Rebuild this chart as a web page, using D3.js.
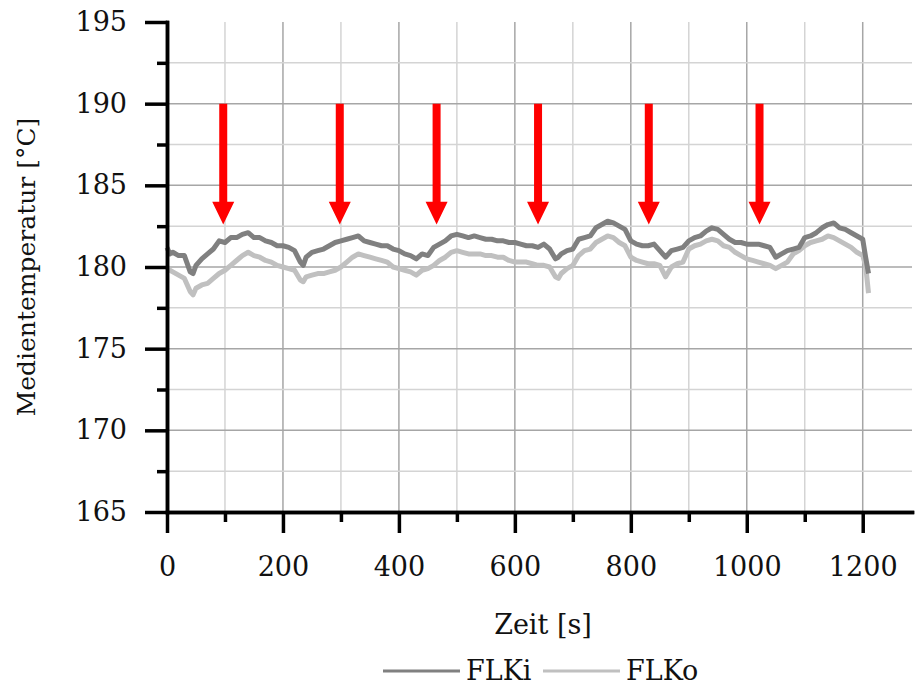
<!DOCTYPE html>
<html>
<head>
<meta charset="utf-8">
<script src="https://cdn.jsdelivr.net/npm/d3@7"></script>
<style>
  body { margin: 0; background: #fff; }
  text { font-family: "DejaVu Serif", "Liberation Serif", "Noto Serif", serif; fill: #111; }
</style>
</head>
<body>
<div id="viz-container"></div>
<script>
// time in seconds
let zeit = [0,5,10,20,30,40,45,50,60,70,80,90,100,110,120,130,140,150,160,170,180,190,200,210,220,230,235,240,
  250,260,270,280,290,300,310,320,330,340,350,360,370,380,390,400,410,420,430,440,450,460,470,480,490,500,
  510,520,530,540,550,560,570,580,590,600,610,620,630,640,650,660,670,675,680,690,700,710,720,730,740,750,
  760,770,780,790,800,810,820,830,840,850,860,870,880,890,900,910,920,930,940,950,960,970,980,990,1000,
  1010,1020,1030,1040,1050,1060,1070,1080,1090,1100,1110,1120,1130,1140,1150,1160,1170,1180,1190,1200,1205,1210];

// FLKi (dark)
let flki = [181.2,180.8,180.9,180.7,180.7,179.7,179.6,180.1,180.5,180.8,181.1,181.6,181.5,181.8,181.8,182.0,182.1,181.8,181.8,181.6,181.5,181.3,181.3,181.2,181.0,180.3,180.1,180.6,
  180.9,181.0,181.1,181.3,181.5,181.6,181.7,181.8,181.9,181.6,181.5,181.4,181.3,181.3,181.1,181.0,180.8,180.7,180.5,180.8,180.7,181.2,181.4,181.6,181.9,182.0,
  181.9,181.8,181.9,181.8,181.7,181.7,181.6,181.6,181.5,181.5,181.4,181.3,181.3,181.2,181.4,181.1,180.5,180.6,180.8,181.0,181.1,181.7,181.8,181.9,182.4,182.6,
  182.8,182.7,182.5,182.3,181.6,181.4,181.3,181.3,181.4,181.0,180.6,181.0,181.1,181.2,181.6,181.8,181.9,182.2,182.4,182.3,182.0,181.7,181.5,181.5,181.4,
  181.4,181.4,181.3,181.2,180.6,180.8,181.0,181.1,181.2,181.8,181.9,182.1,182.4,182.6,182.7,182.4,182.3,182.1,181.9,181.7,180.6,179.6];

// FLKo (light)
let flko = [180.0,179.8,179.7,179.5,179.3,178.5,178.3,178.7,178.9,179.0,179.3,179.6,179.8,180.1,180.4,180.7,180.9,180.7,180.6,180.4,180.3,180.1,180.0,179.9,179.8,179.2,179.1,179.4,
  179.5,179.6,179.6,179.7,179.8,180.0,180.3,180.6,180.8,180.7,180.6,180.5,180.4,180.3,180.0,179.9,179.8,179.7,179.5,179.8,179.9,180.1,180.4,180.6,180.9,181.0,
  180.9,180.8,180.8,180.8,180.7,180.7,180.6,180.6,180.4,180.3,180.3,180.3,180.2,180.1,180.1,180.0,179.4,179.3,179.6,179.9,180.1,180.7,181.0,181.1,181.5,181.7,
  181.9,181.8,181.5,181.3,180.6,180.4,180.3,180.2,180.2,180.1,179.4,180.0,180.2,180.3,181.1,181.3,181.4,181.6,181.7,181.6,181.3,181.2,180.9,180.7,180.5,
  180.4,180.3,180.2,180.1,179.9,180.1,180.3,180.8,181.0,181.3,181.5,181.6,181.7,181.9,181.8,181.6,181.4,181.2,180.9,180.7,180.1,178.4];

// ticks and grid
let xMajor = [0,200,400,600,800,1000,1200];
let xMinor = [100,300,500,700,900,1100];
let yMajor = [165,170,175,180,185,190,195];
let yMinor = [167.5,172.5,177.5,182.5,187.5,192.5];

// red arrows (time, start value, head value, tip value)
let arrowZeit = [97,298,465,640,831,1022];
let arrowVon = 190;
let arrowKopf = 184.0;
let arrowSpitze = 182.6;

let x = d3.scaleLinear().domain([0, 1285]).range([167, 912]);
let y = d3.scaleLinear().domain([165, 195]).range([512, 22]);

let viz = d3.select("#viz-container")
  .append("svg")
    .attr("width", 915)
    .attr("height", 685);

// grid
viz.append("g").selectAll("line").data(xMinor).enter().append("line")
  .attr("x1", d => x(d)).attr("x2", d => x(d)).attr("y1", y(195)).attr("y2", y(165))
  .attr("stroke", "#d4d4d4").attr("stroke-width", 1.5);
viz.append("g").selectAll("line").data(xMajor.slice(1)).enter().append("line")
  .attr("x1", d => x(d)).attr("x2", d => x(d)).attr("y1", y(195)).attr("y2", y(165))
  .attr("stroke", "#a6a6a6").attr("stroke-width", 1.5);
viz.append("g").selectAll("line").data(yMinor).enter().append("line")
  .attr("x1", x(0)).attr("x2", 912).attr("y1", d => y(d)).attr("y2", d => y(d))
  .attr("stroke", "#d4d4d4").attr("stroke-width", 1.5);
viz.append("g").selectAll("line").data(yMajor.slice(1, -1)).enter().append("line")
  .attr("x1", x(0)).attr("x2", 912).attr("y1", d => y(d)).attr("y2", d => y(d))
  .attr("stroke", "#a6a6a6").attr("stroke-width", 1.5);

// lines
let line = d3.line()
  .x((d, i) => x(zeit[i]))
  .y(d => y(d));

viz.append("path").datum(flko)
  .attr("d", line).attr("fill", "none")
  .attr("stroke", "#c0c0c0").attr("stroke-width", 5).attr("stroke-linejoin", "round");
viz.append("path").datum(flki)
  .attr("d", line).attr("fill", "none")
  .attr("stroke", "#808080").attr("stroke-width", 5).attr("stroke-linejoin", "round");

// arrows
function arrowPath(t){
  let cx = x(t);
  let top = y(arrowVon), kopf = y(arrowKopf), tip = y(arrowSpitze);
  return "M" + (cx - 4) + "," + top + "H" + (cx + 4) + "V" + kopf + "H" + (cx + 11)
    + "L" + cx + "," + tip + "L" + (cx - 11) + "," + kopf + "H" + (cx - 4) + "Z";
}
viz.append("g").selectAll("path").data(arrowZeit).enter().append("path")
  .attr("d", arrowPath)
  .attr("fill", "#ff0000");

// axes
function styleAxis(g){
  g.selectAll("line").attr("stroke", "#000").attr("stroke-width", 3.5);
  g.select(".domain").attr("stroke", "#000").attr("stroke-width", 3.5).attr("stroke-linecap", "square");
  g.selectAll("text").attr("font-size", 27).attr("fill", "#111");
}

viz.append("g")
  .attr("transform", "translate(" + x(0) + ",0)")
  .call(d3.axisLeft(y).tickValues(yMinor).tickSize(10).tickSizeOuter(0).tickFormat(""))
  .call(styleAxis);
viz.append("g")
  .attr("transform", "translate(" + x(0) + ",0)")
  .call(d3.axisLeft(y).tickValues(yMajor).tickSize(22).tickPadding(18).tickSizeOuter(0).tickFormat(d3.format("d")))
  .call(styleAxis);

viz.append("g")
  .attr("transform", "translate(0," + y(165) + ")")
  .call(d3.axisBottom(x).tickValues(xMinor).tickSize(10).tickSizeOuter(0).tickFormat(""))
  .call(styleAxis);
let xAxis = viz.append("g")
  .attr("transform", "translate(0," + y(165) + ")")
  .call(d3.axisBottom(x).tickValues(xMajor).tickSize(21).tickSizeOuter(0).tickFormat(d3.format("d")))
  .call(styleAxis);
xAxis.selectAll("text").attr("y", 64).attr("dy", null);

// titles
viz.append("text")
  .attr("x", 543).attr("y", 634)
  .attr("text-anchor", "middle")
  .attr("font-size", 27)
  .text("Zeit [s]");

viz.append("text")
  .attr("transform", "translate(35,267) rotate(-90)")
  .attr("text-anchor", "middle")
  .attr("font-size", 25)
  .text("Medientemperatur [°C]");

// legend
let legende = [
  {name: "FLKi", farbe: "#808080", x0: 383},
  {name: "FLKo", farbe: "#c0c0c0", x0: 543}
];
let lg = viz.append("g").selectAll("g").data(legende).enter().append("g");
lg.append("line")
  .attr("x1", d => d.x0).attr("x2", d => d.x0 + 77)
  .attr("y1", 671).attr("y2", 671)
  .attr("stroke", d => d.farbe).attr("stroke-width", 3);
lg.append("text")
  .attr("x", d => d.x0 + 83).attr("y", 680)
  .attr("font-size", 27)
  .text(d => d.name);
</script>
</body>
</html>
